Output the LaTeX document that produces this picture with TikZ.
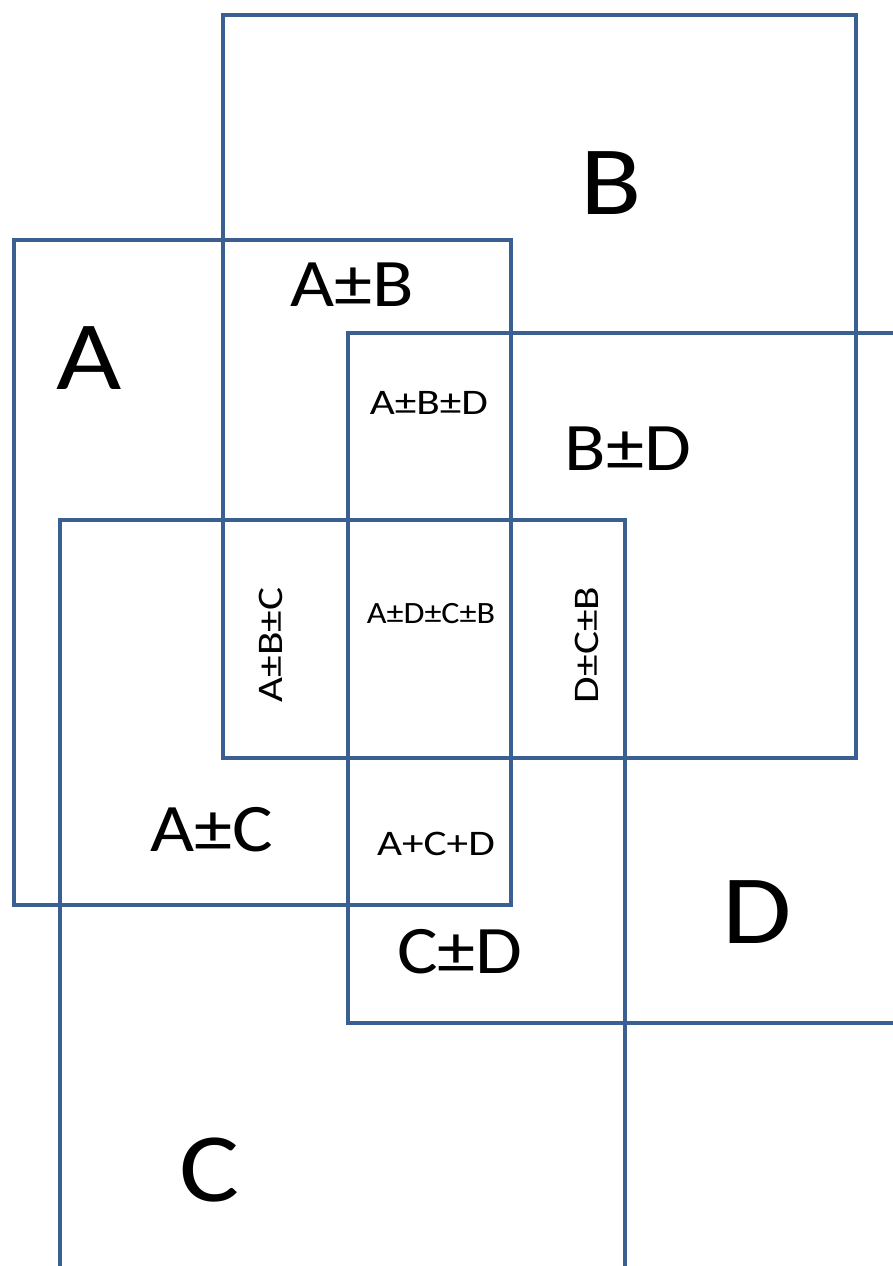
\documentclass[tikz,border=0pt]{standalone}
\usepackage{fontspec}
\setmainfont{Carlito}
\usepackage{tikz}

\definecolor{boxblue}{RGB}{58,95,145}

\begin{document}
\begin{tikzpicture}[x=1pt,y=-1pt,
  frame/.style={draw=boxblue,line width=4.2pt},
  big/.style={font=\fontsize{98}{98}\selectfont,xscale=1.15},
  pair/.style={font=\fontsize{68}{68}\selectfont,xscale=1.12},
  trio/.style={font=\fontsize{36}{36}\selectfont,xscale=1.2},
  quad/.style={font=\fontsize{31}{31}\selectfont,xscale=1.1}]
\useasboundingbox (0,0) rectangle (893,1266);
\clip (0,0) rectangle (893,1266);

% the four sets
\draw[frame] (223,15) rectangle (856,758);
\draw[frame] (14,240) rectangle (511,905);
\draw[frame] (348,333) rectangle (920,1023);
\draw[frame] (60,520) rectangle (625,1290);

\node[big] (lA) at (89,358) {A};
\node[big] (lB) at (611,183) {B};
\node[big] (lC) at (210,1170) {C};
\node[big] (lD) at (757,912) {D};

\node[pair] (lAB) at (352,285) {A±B};
\node[pair] (lBD) at (628,449) {B±D};
\node[pair] (lAC) at (212,830) {A±C};
\node[pair] (lCD) at (460,952) {C±D};

\node[trio] (lABD) at (429,403) {A±B±D};
\node[quad] (lADCB) at (431,614) {A±D±C±B};
\node[rotate=90,trio] (lABC) at (271,645) {A±B±C};
\node[rotate=90,trio] (lDCB) at (587,645) {D±C±B};
\node[trio] (lACD) at (436,844) {A+C+D};
\end{tikzpicture}
\end{document}
